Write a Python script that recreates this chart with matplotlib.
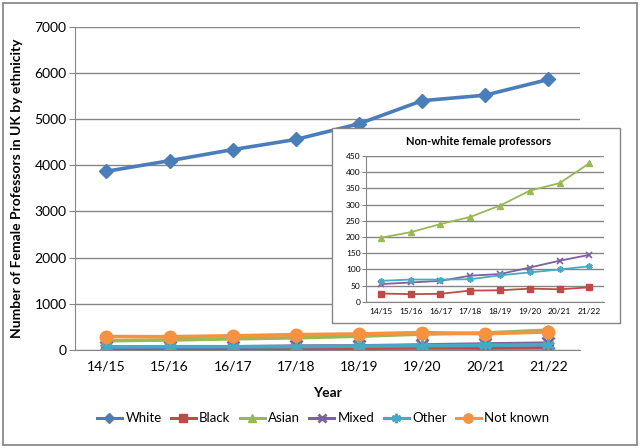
import matplotlib
matplotlib.use("Agg")
import matplotlib.pyplot as plt
from matplotlib.patches import Rectangle

years = ["14/15", "15/16", "16/17", "17/18", "18/19", "19/20", "20/21", "21/22"]
white = [3870, 4100, 4340, 4560, 4900, 5400, 5520, 5860]
black = [26, 24, 25, 35, 36, 41, 39, 45]
asian = [198, 215, 240, 262, 297, 343, 366, 427]
mixed = [55, 60, 65, 81, 86, 106, 127, 145]
other = [65, 69, 69, 70, 82, 91, 100, 110]
not_known = [290, 285, 305, 330, 345, 375, 350, 390]

names = ["White", "Black", "Asian", "Mixed", "Other", "Not known"]
series = [white, black, asian, mixed, other, not_known]
colors = ["#4A7EBB", "#BE4B48", "#98B954", "#7D60A0", "#46AAC5", "#F69240"]
markers = ["D", "s", "^", "x", (6, 2, 0), "o"]

plt.rcParams['font.family'] = ['Lato', 'DejaVu Sans']

fig = plt.figure(figsize=(6.4, 4.48), dpi=100)
fig.patches.append(Rectangle((0.004, 0.006), 0.991, 0.988, transform=fig.transFigure,
                             fill=False, edgecolor="#808080", lw=1.2))

ax = fig.add_axes([0.117, 0.219, 0.789, 0.721])
x = list(range(len(years)))
main_ms = [7, 7, 7, 8, 9, 9]
for s, n, c, m, ms in zip(series, names, colors, markers, main_ms):
    ax.plot(x, s, color=c, lw=2.6, marker=m, ms=ms, mew=2 if m in ("x", (6, 2, 0)) else 1,
            mec=c, mfc=c, label=n)
ax.set_xlim(-0.5, 7.5)
ax.set_ylim(0, 7000)
ax.set_yticks(range(0, 7001, 1000))
ax.set_xticks(x)
ax.set_xticklabels(years)
ax.grid(axis='y', color="#868686", lw=1)
ax.set_axisbelow(True)
for sp in ["top", "right"]:
    ax.spines[sp].set_visible(False)
for sp in ["left", "bottom"]:
    ax.spines[sp].set_color("#868686")
ax.tick_params(axis='y', length=4, color="#868686", labelsize=10, pad=2)
ax.tick_params(axis='x', length=0, labelsize=10, pad=8)
ax.set_xlabel("Year", fontweight='bold', fontsize=10, labelpad=10)
ax.set_ylabel("Number of Female Professors in UK by ethnicity", fontweight='bold', fontsize=10, labelpad=8)

handles, labels = ax.get_legend_handles_labels()
for h in handles:
    pass
leg = fig.legend(handles, labels, loc='center', bbox_to_anchor=(0.505, 0.066),
                 ncol=6, frameon=False, fontsize=9.5, handlelength=1.9, columnspacing=0.7,
                 handletextpad=0.25, markerscale=0.75)
for lh in leg.get_lines():
    lh.set_linewidth(2.2)

# inset
fig.patches.append(Rectangle((0.519, 0.279), 0.45, 0.435, transform=fig.transFigure,
                             facecolor="white", edgecolor="#868686", lw=1, zorder=5))
fig.text(0.747, 0.685, "Non-white female professors", ha='center', va='center',
         fontsize=8, fontweight='bold', zorder=6)
ia = fig.add_axes([0.572, 0.326, 0.372, 0.326], zorder=7)
ia.patch.set_alpha(0)
for s, n, c, m in zip(series[1:5], names[1:5], colors[1:5], markers[1:5]):
    ia.plot(x, s, color=c, lw=1.3, marker=m, ms=4.5, mec=c, mfc=c,
            mew=1.2 if m in ("x", (6, 2, 0)) else 1)
ia.set_xlim(-0.5, 7.5)
ia.set_ylim(0, 450)
ia.set_yticks(range(0, 451, 50))
ia.set_xticks(x)
ia.set_xticklabels(years)
ia.grid(axis='y', color="#868686", lw=1)
ia.set_axisbelow(True)
for sp in ["top", "right"]:
    ia.spines[sp].set_visible(False)
for sp in ["left", "bottom"]:
    ia.spines[sp].set_color("#868686")
ia.tick_params(axis='y', length=3, color="#868686", labelsize=6, pad=1)
ia.tick_params(axis='x', length=0, labelsize=6, pad=4)

fig.savefig("out.png", dpi=100)
